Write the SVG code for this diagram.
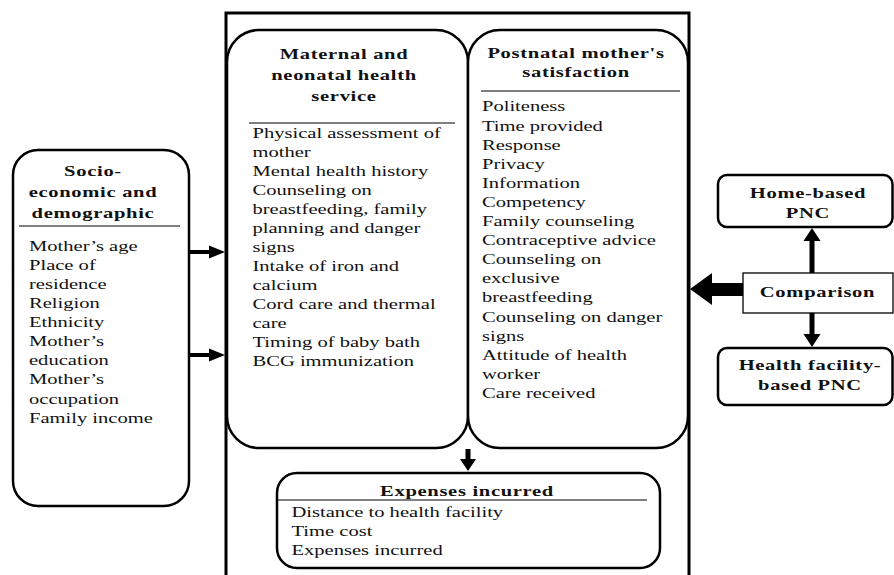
<svg xmlns="http://www.w3.org/2000/svg" width="894" height="575" viewBox="0 0 894 575">
<style>
.box{fill:#fff;stroke:#000;stroke-width:2.5}
.thin{fill:#fff;stroke:#000;stroke-width:1.3}
.sep{stroke:#000;stroke-width:1}
.frame{fill:none;stroke:#000;stroke-width:3}
.t{font-family:"Liberation Serif","Times New Roman",serif;font-weight:bold;font-size:15px;letter-spacing:0.5px;text-anchor:middle;fill:#111}
.b{font-family:"Liberation Serif","Times New Roman",serif;font-size:15px;fill:#111}
.ln{stroke:#000;stroke-width:4;fill:none}
.lv{stroke:#000;stroke-width:5;fill:none}
.hd{fill:#000}
</style>
<rect width="894" height="575" fill="#fff"/>
<path class="frame" d="M226,578 V13 H689 V578"/>

<g id="socio">
<rect class="box" x="13" y="150" width="176" height="356" rx="25" ry="25"/>
<line class="sep" x1="19" y1="226" x2="180" y2="226"/>
<g transform="translate(93,0) scale(1.37,1)">
<text class="t" x="0" y="176">Socio-</text>
<text class="t" x="0" y="197">economic and</text>
<text class="t" x="0" y="218">demographic</text>
</g>
<g transform="translate(29,0) scale(1.37,1)">
<text class="b" x="0" y="251">Mother’s age</text>
<text class="b" x="0" y="270">Place of</text>
<text class="b" x="0" y="289">residence</text>
<text class="b" x="0" y="308">Religion</text>
<text class="b" x="0" y="327.5">Ethnicity</text>
<text class="b" x="0" y="346.5">Mother’s</text>
<text class="b" x="0" y="365.5">education</text>
<text class="b" x="0" y="384.5">Mother’s</text>
<text class="b" x="0" y="404">occupation</text>
<text class="b" x="0" y="423">Family income</text>
</g>
</g>

<g id="maternal">
<rect class="box" x="227" y="30" width="241" height="418" rx="32" ry="32"/>
<line class="sep" x1="249" y1="123" x2="455" y2="123"/>
<g transform="translate(344,0) scale(1.37,1)">
<text class="t" x="0" y="59">Maternal and</text>
<text class="t" x="0" y="80">neonatal health</text>
<text class="t" x="0" y="101">service</text>
</g>
<g transform="translate(252.5,0) scale(1.37,1)">
<text class="b" x="0" y="138.5">Physical assessment of</text>
<text class="b" x="0" y="157.5">mother</text>
<text class="b" x="0" y="176.5">Mental health history</text>
<text class="b" x="0" y="195.5">Counseling on</text>
<text class="b" x="0" y="214.5">breastfeeding, family</text>
<text class="b" x="0" y="233.5">planning and danger</text>
<text class="b" x="0" y="252.5">signs</text>
<text class="b" x="0" y="271.5">Intake of iron and</text>
<text class="b" x="0" y="290.5">calcium</text>
<text class="b" x="0" y="309.5">Cord care and thermal</text>
<text class="b" x="0" y="328.5">care</text>
<text class="b" x="0" y="347.5">Timing of baby bath</text>
<text class="b" x="0" y="366.5">BCG immunization</text>
</g>
</g>

<g id="postnatal">
<rect class="box" x="468" y="30" width="220" height="418" rx="32" ry="32"/>
<line class="sep" x1="481" y1="91" x2="680" y2="91"/>
<g transform="translate(576,0) scale(1.37,1)">
<text class="t" x="0" y="58">Postnatal mother's</text>
<text class="t" x="0" y="77">satisfaction</text>
</g>
<g transform="translate(482,0) scale(1.37,1)">
<text class="b" x="0" y="111.5">Politeness</text>
<text class="b" x="0" y="130.6">Time provided</text>
<text class="b" x="0" y="149.7">Response</text>
<text class="b" x="0" y="168.8">Privacy</text>
<text class="b" x="0" y="187.9">Information</text>
<text class="b" x="0" y="207">Competency</text>
<text class="b" x="0" y="226.1">Family counseling</text>
<text class="b" x="0" y="245.2">Contraceptive advice</text>
<text class="b" x="0" y="264.3">Counseling on</text>
<text class="b" x="0" y="283.4">exclusive</text>
<text class="b" x="0" y="302.5">breastfeeding</text>
<text class="b" x="0" y="321.6">Counseling on danger</text>
<text class="b" x="0" y="340.7">signs</text>
<text class="b" x="0" y="359.8">Attitude of health</text>
<text class="b" x="0" y="378.9">worker</text>
<text class="b" x="0" y="398">Care received</text>
</g>
</g>

<g id="expenses">
<rect class="box" x="277" y="473" width="383" height="95" rx="20" ry="20"/>
<line class="sep" x1="278" y1="500" x2="647" y2="500"/>
<g transform="translate(467,0) scale(1.37,1)">
<text class="t" x="0" y="496">Expenses incurred</text>
</g>
<g transform="translate(291.5,0) scale(1.37,1)">
<text class="b" x="0" y="517">Distance to health facility</text>
<text class="b" x="0" y="536">Time cost</text>
<text class="b" x="0" y="555">Expenses incurred</text>
</g>
</g>

<g id="home">
<rect class="box" x="718" y="175" width="174.5" height="52" rx="9" ry="9"/>
<g transform="translate(808,0) scale(1.37,1)">
<text class="t" x="0" y="198">Home-based</text>
<text class="t" x="0" y="218">PNC</text>
</g>
</g>

<g id="comparison">
<rect class="thin" x="743" y="273" width="150" height="40"/>
<g transform="translate(817.5,0) scale(1.37,1)">
<text class="t" x="0" y="297">Comparison</text>
</g>
</g>

<g id="facility">
<rect class="box" x="718" y="348" width="174.5" height="57" rx="9" ry="9"/>
<g transform="translate(810,0) scale(1.37,1)">
<text class="t" x="0" y="370">Health facility-</text>
<text class="t" x="0" y="390">based PNC</text>
</g>
</g>

<g id="connectors">
<line class="ln" x1="190" y1="252" x2="212" y2="252"/>
<polygon class="hd" points="209,245.5 225,252 209,258.5"/>
<line class="ln" x1="190" y1="355" x2="212" y2="355"/>
<polygon class="hd" points="209,348.5 225,355 209,361.5"/>
<line class="lv" x1="468" y1="449" x2="468" y2="461"/>
<polygon class="hd" points="460,459 468,471 476,459"/>
<line class="lv" x1="812" y1="273" x2="812" y2="238"/>
<polygon class="hd" points="803.5,241 812,228 820.5,241"/>
<line class="lv" x1="812" y1="313" x2="812" y2="336"/>
<polygon class="hd" points="803.5,334 812,347 820.5,334"/>
<polygon class="hd" points="743,283 712,283 712,273 690,289 712,305 712,296 743,296"/>
</g>
</svg>
